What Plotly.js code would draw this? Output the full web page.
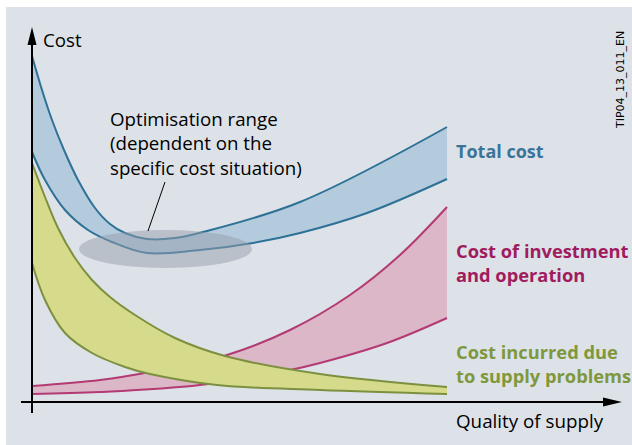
<!DOCTYPE html>
<html>
<head>
<meta charset="utf-8">
<script src="https://cdn.plot.ly/plotly-3.0.1.min.js"></script>
<style>
  html, body { margin: 0; padding: 0; background: #fff; }
  #chart { width: 632px; height: 445px; }
</style>
</head>
<body>
<div id="chart"></div>
<script>
// cost vs quality of supply (arbitrary units)

var totalUpX = [0, 10, 20, 32, 46, 63, 78, 93, 115, 143, 171, 268, 415];
var totalUpY = [346, 312, 282, 252, 222, 194, 178, 169, 163, 164, 170, 200, 275];
var totalLoX = [0, 13, 33, 56, 80, 115, 168, 221, 268, 335, 415];
var totalLoY = [250, 222, 192, 172, 160, 149, 152, 159, 169, 189, 223];

var investUpX = [0, 68, 118, 195, 258, 318, 368, 415];
var investUpY = [16, 22, 30, 47, 72, 107, 147, 195];
var investLoX = [0, 68, 168, 258, 288, 355, 415];
var investLoY = [8, 10, 17, 32, 39, 59, 84];

var supplyUpX = [0, 13, 26, 43, 60, 78, 103, 143, 193, 288, 415];
var supplyUpY = [239, 205, 174, 144, 122, 105, 87, 64, 46, 28, 15];
var supplyLoX = [0, 13, 33, 60, 93, 118, 185, 288, 415];
var supplyLoY = [139, 102, 69, 49, 35, 28, 17, 12, 8];

var font = '"Open Sans", "Noto Sans", sans-serif';

function band(loX, loY, upX, upY, lineColor, fillColor){
    var lo = {
        x: loX, y: loY, mode: 'lines', type: 'scatter',
        line: {color: lineColor, width: 2, shape: 'spline', smoothing: 1},
        hoverinfo: 'skip'
    };
    var up = {
        x: upX, y: upY, mode: 'lines', type: 'scatter',
        fill: 'tonexty', fillcolor: fillColor,
        line: {color: lineColor, width: 2, shape: 'spline', smoothing: 1},
        hoverinfo: 'skip'
    };
    return [lo, up];
}

var data = []
    .concat(band(investLoX, investLoY, investUpX, investUpY, '#b33a72', '#dbb7c8'))
    .concat(band(supplyLoX, supplyLoY, supplyUpX, supplyUpY, '#7d9040', '#d5db8a'))
    .concat(band(totalLoX, totalLoY, totalUpX, totalUpY, '#2e7196', '#b3cbdd'));

function note(text, x, y, color, bold, size, extra){
    var a = {
        text: bold ? '<b>' + text + '</b>' : text,
        x: x, y: y, xref: 'x', yref: 'y',
        xanchor: 'left', yanchor: 'middle', align: 'left',
        showarrow: false,
        font: {family: font, size: size, color: color}
    };
    for (var k in extra) a[k] = extra[k];
    return a;
}

var layout = {
    width: 632, height: 445,
    margin: {l: 6, r: 0, t: 7, b: 0},
    paper_bgcolor: '#ffffff',
    plot_bgcolor: '#dde2e8',
    showlegend: false,
    xaxis: {range: [-26, 600], visible: false, fixedrange: true},
    yaxis: {range: [-43, 395], visible: false, fixedrange: true},
    shapes: [
        // optimisation range
        {type: 'circle', xref: 'x', yref: 'y', x0: 47, x1: 220, y0: 134, y1: 172,
         fillcolor: 'rgba(150,158,172,0.5)', line: {width: 0}, layer: 'above'},
        {type: 'line', xref: 'x', yref: 'y', x0: 116, y0: 171, x1: 133, y1: 220,
         line: {color: '#000', width: 1}, layer: 'above'},
        // axes
        {type: 'line', xref: 'x', yref: 'y', x0: 0, y0: -11, x1: 0, y1: 360,
         line: {color: '#000', width: 2}, layer: 'above'},
        {type: 'path', xref: 'x', yref: 'y', path: 'M -4.5 357 L 4.5 357 L 0 375 Z',
         fillcolor: '#000', line: {width: 0}, layer: 'above'},
        {type: 'line', xref: 'x', yref: 'y', x0: -11, y0: 0, x1: 575, y1: 0,
         line: {color: '#000', width: 2}, layer: 'above'},
        {type: 'path', xref: 'x', yref: 'y', path: 'M 571 4.5 L 571 -4.5 L 590 0 Z',
         fillcolor: '#000', line: {width: 0}, layer: 'above'}
    ],
    annotations: [
        note('Cost', 9, 363, '#000', false, 18.7),
        note('Optimisation range<br>(dependent on the<br>specific cost situation)', 76, 259, '#000', false, 18.7),
        note('Total cost', 422, 251, '#3b7499', true, 18),
        note('Cost of investment<br>and operation', 422, 140, '#a01c5e', true, 18.3),
        note('Cost incurred due<br>to supply problems', 422, 39, '#7f983d', true, 18.3),
        note('Quality of supply', 422, -19, '#000', false, 18.8),
        note('TIP04_13_011_EN', 588, 322, '#000', false, 11,
             {textangle: -90, xanchor: 'center', yanchor: 'middle',
              font: {family: '"DejaVu Sans", sans-serif', size: 11, color: '#000'}})
    ]
};

Plotly.newPlot('chart', data, layout, {staticPlot: true, displayModeBar: false});
</script>
</body>
</html>
